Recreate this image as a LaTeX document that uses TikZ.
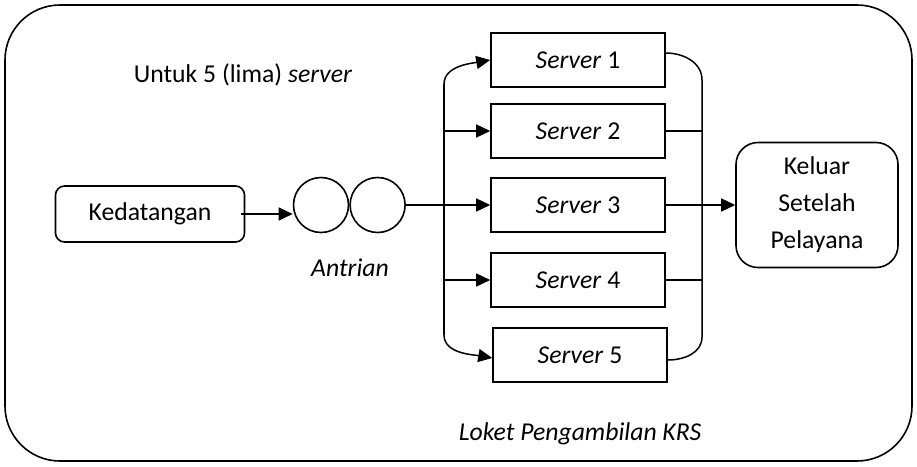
\documentclass[tikz,border=0pt]{standalone}
\usepackage{fontspec}
\setmainfont{Carlito}
\usetikzlibrary{arrows.meta, positioning}
\tikzstyle{terminal} = [rectangle, rounded corners=9pt, text centered, draw=black, line width=1.6pt]
\tikzstyle{server} = [rectangle, minimum width=174pt, minimum height=54pt, text centered, draw=black, line width=1.6pt]
\tikzstyle{queue} = [circle, minimum size=55pt, inner sep=0pt, draw=black, line width=1.6pt]
\tikzstyle{arrow} = [line width=1.5pt, -{Triangle[length=14pt,width=13pt]}]
\tikzstyle{line} = [line width=1.5pt]

\begin{document}
\begin{tikzpicture}[x=1pt, y=-1pt, font=\fontsize{25.7}{37}\selectfont]
    \useasboundingbox (0,0) rectangle (917,466);

    % Frame
    \draw [line width=1.6pt, rounded corners=55pt] (5,5) rectangle (912,461);

    % Nodes
    \node (kedatangan) [terminal, minimum width=189pt, minimum height=56pt] at (150,214) {Kedatangan};
    \node (q1) [queue] at (321,205) {};
    \node (q2) [queue, right=0pt of q1] {};
    \node (antrian) at (350,268) {\textit{Antrian}};
    \node (s1) [server] at (578,60) {\textit{Server} 1};
    \node (s2) [server] at (578,131) {\textit{Server} 2};
    \node (s3) [server] at (578,205) {\textit{Server} 3};
    \node (s4) [server] at (578,280) {\textit{Server} 4};
    \node (s5) [server] at (580,355) {\textit{Server} 5};
    \node (keluar) [terminal, minimum width=162pt, minimum height=125pt, rounded corners=22pt, align=center] at (817,205) {Keluar\\Setelah\\Pelayana};
    \node (judul) at (243,75) {Untuk 5 (lima) \textit{server}};
    \node (loket) at (580,434) {\textit{Loket Pengambilan KRS}};

    % Bus corners
    \coordinate (lt) at (444,84);
    \coordinate (lb) at (444,335);
    \coordinate (rt) at (702,80);
    \coordinate (rb) at (702,337);

    % Arrows
    \draw [arrow] ([xshift=-4pt]kedatangan.east) -- (q1.west |- kedatangan.east);
    \draw [arrow] (q2.east) -- (s3.west);
    \draw [line] (lt) -- (lb);
    \draw [arrow] (lt) to[out=90, in=190, looseness=0.9] (s1.west);
    \draw [arrow] (s2.west -| lt) -- (s2.west);
    \draw [arrow] (s4.west -| lt) -- (s4.west);
    \draw [arrow] (lb) to[out=-90, in=170, looseness=0.9] ([yshift=-3pt]s5.west);

    % Right side
    \draw [line] ([yshift=7pt]s1.east) to[out=0, in=90] (rt) -- (rb) to[out=-90, in=0] ([yshift=-5pt]s5.east);
    \draw [line] (s2.east) -- (s2.east -| rt);
    \draw [line] (s4.east) -- (s4.east -| rt);
    \draw [arrow] (s3.east) -- (keluar.west);
\end{tikzpicture}
\end{document}
